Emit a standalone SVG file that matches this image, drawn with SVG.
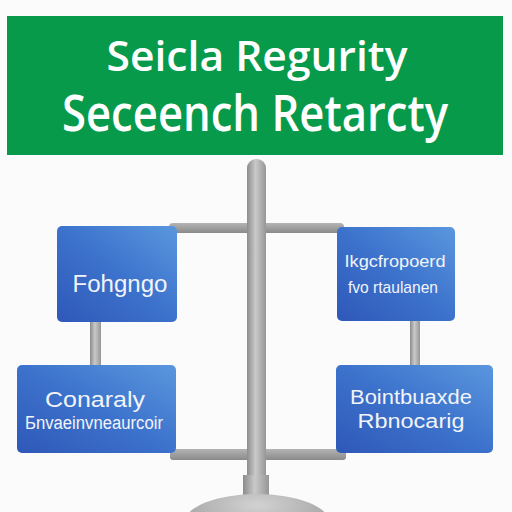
<svg xmlns="http://www.w3.org/2000/svg" width="512" height="512" viewBox="0 0 512 512">
  <defs>
    <linearGradient id="pole" x1="0" y1="0" x2="1" y2="0">
      <stop offset="0" stop-color="#8c8c8c"/>
      <stop offset="0.45" stop-color="#c9c9c9"/>
      <stop offset="1" stop-color="#969696"/>
    </linearGradient>
    <linearGradient id="bar" x1="0" y1="0" x2="0" y2="1">
      <stop offset="0" stop-color="#b4b4b4"/>
      <stop offset="1" stop-color="#8a8a8a"/>
    </linearGradient>
    <linearGradient id="boxg" x1="1" y1="0" x2="0" y2="1">
      <stop offset="0" stop-color="#5a97de"/>
      <stop offset="0.5" stop-color="#3c72cc"/>
      <stop offset="1" stop-color="#2f58b8"/>
    </linearGradient>
    <radialGradient id="base" cx="0.5" cy="0.2" r="0.7">
      <stop offset="0" stop-color="#d2d2d2"/>
      <stop offset="1" stop-color="#9a9a9a"/>
    </radialGradient>
    <style>
      .box { fill: url(#boxg); }
      .t { font-family: "Open Sans", "Noto Sans", "Liberation Sans", sans-serif; font-weight: 600; fill: #ffffff; text-anchor: middle; }
      .bt { font-family: "Liberation Sans", "Noto Sans", sans-serif; fill: #f2f4f8; text-anchor: middle; }
    </style>
  </defs>
  <rect width="512" height="512" fill="#fbfbfb"/>

  <g id="banner">
    <rect x="7" y="16" width="496" height="139" fill="#079a4b"/>
    <text class="t" x="257" y="71" font-size="41" textLength="301" lengthAdjust="spacingAndGlyphs">Seicla Regurity</text>
    <text class="t" x="255" y="131" font-size="50" textLength="386" lengthAdjust="spacingAndGlyphs">Seceench Retarcty</text>
  </g>

  <g id="connectors">
    <rect x="169" y="223" width="175" height="10" rx="4" fill="url(#bar)"/>
    <rect x="170" y="449" width="176" height="11" rx="3" fill="url(#bar)"/>
    <rect x="247" y="159" width="19" height="330" rx="9" fill="url(#pole)"/>
    <rect x="90" y="320" width="11" height="47" fill="url(#pole)"/>
    <rect x="410" y="320" width="10" height="47" fill="url(#pole)"/>
    <rect x="243" y="475" width="26" height="22" fill="url(#pole)"/>
    <ellipse cx="257" cy="522" rx="72" ry="28" fill="url(#base)"/>
  </g>

  <g id="node-top-left">
    <rect class="box" x="57" y="226" width="120" height="96" rx="5"/>
    <text class="bt" x="120" y="292" font-size="23" textLength="95" lengthAdjust="spacingAndGlyphs">Fohgngo</text>
  </g>

  <g id="node-top-right">
    <rect class="box" x="337" y="227" width="118" height="94" rx="5"/>
    <text class="bt" x="395" y="267" font-size="17" textLength="101" lengthAdjust="spacingAndGlyphs">Ikgcfropoerd</text>
    <text class="bt" x="393" y="293" font-size="17" textLength="90" lengthAdjust="spacingAndGlyphs">fvo rtaulanen</text>
  </g>

  <g id="node-bottom-left">
    <rect class="box" x="17" y="365" width="159" height="88" rx="5"/>
    <text class="bt" x="95" y="407" font-size="22" textLength="100" lengthAdjust="spacingAndGlyphs">Conaraly</text>
    <text class="bt" x="94" y="429" font-size="18" textLength="138" lengthAdjust="spacingAndGlyphs">Бnvaeinvneaurcoir</text>
  </g>

  <g id="node-bottom-right">
    <rect class="box" x="336" y="365" width="157" height="88" rx="5"/>
    <text class="bt" x="411" y="404" font-size="20" textLength="122" lengthAdjust="spacingAndGlyphs">Bointbuaxde</text>
    <text class="bt" x="411" y="428" font-size="20" textLength="107" lengthAdjust="spacingAndGlyphs">Rbnocarig</text>
  </g>
</svg>
